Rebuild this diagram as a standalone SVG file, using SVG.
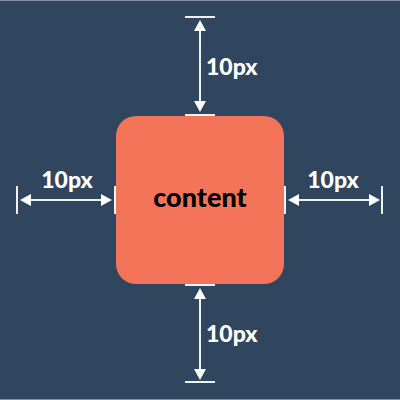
<svg xmlns="http://www.w3.org/2000/svg" width="400" height="400" viewBox="0 0 400 400">
<style>
.dim{stroke:#eef2f7;stroke-width:2;fill:none}
.tick{stroke:#eef2f7;stroke-width:2}
.lbl{font-family:Lato,"Open Sans","DejaVu Sans",sans-serif;font-weight:900;font-size:23px;fill:#ffffff}
.head{fill:#ffffff}
</style>
<rect width="400" height="400" fill="#30465f"/>
<rect x="0" y="0" width="400" height="1" fill="#8592a2"/>
<rect x="0" y="399" width="400" height="1" fill="#8592a2"/>
<g id="content-box">
<rect x="116" y="116" width="168" height="168" rx="20" fill="#f47459"/>
<text x="200" y="207" text-anchor="middle" font-family="Lato,'Open Sans','DejaVu Sans',sans-serif" font-weight="900" font-size="27" fill="#000000">content</text>
</g>
<g id="connectors">
<g id="top-dim">
<line class="tick" x1="185" y1="17" x2="215" y2="17"/>
<line class="tick" x1="185" y1="115" x2="215" y2="115"/>
<line class="dim" x1="200" y1="26" x2="200" y2="106"/>
<polygon class="head" points="200,20 194,31 206,31"/>
<polygon class="head" points="200,112 194,101 206,101"/>
</g>
<g id="bottom-dim">
<line class="tick" x1="185" y1="285" x2="215" y2="285"/>
<line class="tick" x1="185" y1="382" x2="215" y2="382"/>
<line class="dim" x1="200" y1="294" x2="200" y2="374"/>
<polygon class="head" points="200,288 194,299 206,299"/>
<polygon class="head" points="200,380 194,369 206,369"/>
</g>
<g id="left-dim">
<line class="tick" x1="17" y1="186" x2="17" y2="214"/>
<line class="tick" x1="115" y1="186" x2="115" y2="214"/>
<line class="dim" x1="26" y1="200" x2="106" y2="200"/>
<polygon class="head" points="20,200 31,194 31,206"/>
<polygon class="head" points="112,200 101,194 101,206"/>
</g>
<g id="right-dim">
<line class="tick" x1="285" y1="186" x2="285" y2="214"/>
<line class="tick" x1="382" y1="186" x2="382" y2="214"/>
<line class="dim" x1="294" y1="200" x2="374" y2="200"/>
<polygon class="head" points="288,200 299,194 299,206"/>
<polygon class="head" points="380,200 369,194 369,206"/>
</g>
</g>
<g id="labels">
<text class="lbl" x="206" y="75">10px</text>
<text class="lbl" x="206" y="342">10px</text>
<text class="lbl" x="67" y="188" text-anchor="middle">10px</text>
<text class="lbl" x="333" y="188" text-anchor="middle">10px</text>
</g>
</svg>
